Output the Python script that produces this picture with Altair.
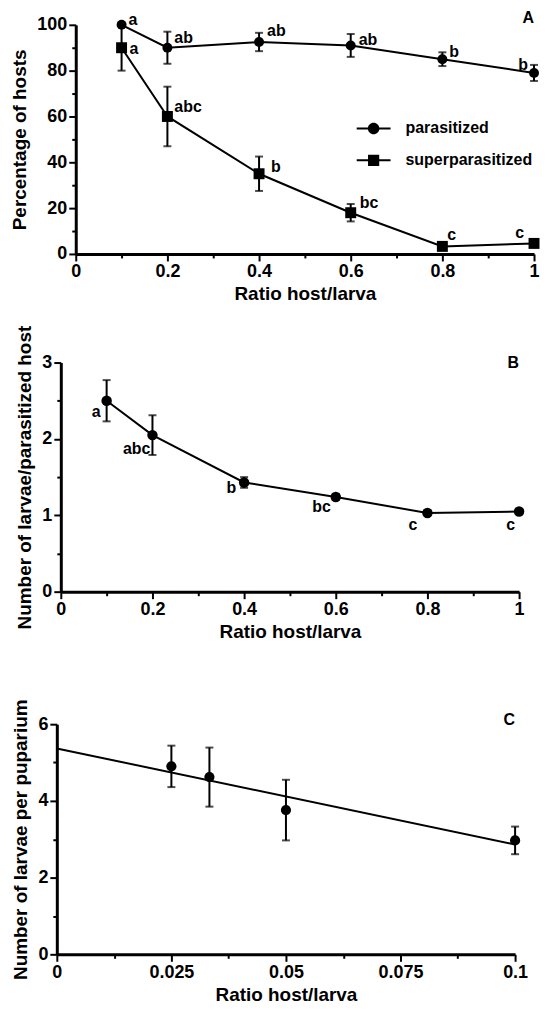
import altair as alt
import pandas as pd

FONT = "Liberation Sans"

# ---------------- data ----------------
# Panel A
ratio = [0.1, 0.2, 0.4, 0.6, 0.8, 1.0]
series_names = ["parasitized", "superparasitized"]
parasitized = [100, 90, 92.5, 91, 85, 79]
parasitized_sem = [0, 7, 4, 5, 3, 3.5]
parasitized_letters = ["a", "ab", "ab", "ab", "b", "b"]
superparasitized = [90, 60, 35, 18, 3.3, 4.6]
superparasitized_sem = [10, 13, 7.5, 3.8, 0, 0]
superparasitized_letters = ["a", "abc", "b", "bc", "c", "c"]

# Panel B
larvae_per_host = [2.5, 2.05, 1.43, 1.24, 1.03, 1.05]
larvae_per_host_sem = [0.27, 0.26, 0.07, 0.04, 0.02, 0.02]
larvae_per_host_letters = ["a", "abc", "b", "bc", "c", "c"]

# Panel C
ratio_c = [0.025, 0.0333, 0.05, 0.1]
larvae_per_puparium = [4.9, 4.62, 3.76, 2.97]
larvae_per_puparium_sem = [0.54, 0.77, 0.79, 0.36]

# Tick values
x_ticks_ab = [0, 0.1, 0.2, 0.3, 0.4, 0.5, 0.6, 0.7, 0.8, 0.9, 1.0]
y_ticks_a = [0, 10, 20, 30, 40, 50, 60, 70, 80, 90, 100]
y_ticks_b = [0, 0.5, 1, 1.5, 2, 2.5, 3]
x_ticks_c = [0, 0.0125, 0.025, 0.0375, 0.05, 0.0625, 0.075, 0.0875, 0.1]
y_ticks_c = [0, 1, 2, 3, 4, 5, 6]

# ---------------- styles ----------------
# letter placement: (align, dx, dy)
A_PAR_LABEL_STYLE = [("left", 7, -5), ("left", 7, -10), ("left", 8, -11),
                     ("left", 8, -5), ("left", 7, -7), ("right", -6, -8)]
A_SUP_LABEL_STYLE = [("left", 8, 1), ("left", 7, -9), ("left", 12, -7),
                     ("left", 9, -10), ("left", 5, -11), ("right", -10, -10)]
B_LABEL_STYLE = [("right", -6, 11), ("right", -2, 14), ("right", -8, 6),
                 ("right", -5, 10), ("right", -10, 12), ("right", -4, 14)]

PLOT_W = 460
A_SHIFT, B_SHIFT = 19, 4      # left inset of panel A / B plot relative to panel C
A_H, B_H, C_H = 230, 230, 231
C_TOP_GAP = 24
SPACING = 109

MAJ_X_AB = "round(datum.value * 10) % 2 == 0"
MAJ_Y_A = "round(datum.value) % 20 == 0"
MAJ_Y_B = "round(datum.value * 2) % 2 == 0"
MAJ_X_C = "round(datum.value * 80) % 2 == 0"
MAJ_Y_C = "round(datum.value) % 2 == 0"


def make_axis(values, major, title, title_pad, label_pad=2, offset=0):
    return alt.Axis(
        values=values,
        title=title,
        labelExpr=f"({major}) ? format(datum.value, '~g') : ''",
        tickSize={"condition": {"test": major, "value": 7}, "value": 4},
        titlePadding=title_pad,
        labelPadding=label_pad,
        labelFlush=False,
        labelOverlap=False,
        grid=False,
        offset=offset,
    )


def panel_title(letter, offset):
    return alt.TitleParams(text=letter, anchor="end", frame="group", fontSize=16,
                           font=FONT, fontWeight="bold", color="black", offset=offset)


def letter_layers(base, x_enc, y_enc, key_prefix, styles):
    layers = []
    for i, (align, dx, dy) in enumerate(styles):
        layers.append(
            base.transform_filter(f"datum.key == '{key_prefix}{i}'")
            .mark_text(align=align, baseline="middle", dx=dx, dy=dy, font=FONT,
                       fontSize=16, fontWeight="bold", color="black")
            .encode(x=x_enc, y=y_enc, text="letter:N")
        )
    return layers


# ---------------- Panel A ----------------
n = len(ratio)
df_a = pd.DataFrame({
    "ratio": ratio + ratio,
    "value": parasitized + superparasitized,
    "sem": parasitized_sem + superparasitized_sem,
    "series": [series_names[0]] * n + [series_names[1]] * n,
    "letter": parasitized_letters + superparasitized_letters,
    "key": [f"p{i}" for i in range(n)] + [f"s{i}" for i in range(n)],
})
df_a["lo"] = df_a["value"] - df_a["sem"]
df_a["hi"] = df_a["value"] + df_a["sem"]

xa_axis = make_axis(x_ticks_ab, MAJ_X_AB, "Ratio host/larva", 4)
ya_axis = make_axis(y_ticks_a, MAJ_Y_A, "Percentage of hosts", 7, offset=-A_SHIFT)
xa_scale = alt.Scale(domain=[0, 1], nice=False, range=[A_SHIFT, A_SHIFT + PLOT_W])
ya_scale = alt.Scale(domain=[0, 100], nice=False)
XA = alt.X("ratio:Q", axis=xa_axis, scale=xa_scale)
YA = alt.Y("value:Q", axis=ya_axis, scale=ya_scale)

base_a = alt.Chart(df_a)
lines_a = base_a.mark_line(color="black", strokeWidth=2).encode(x=XA, y=YA, detail="series:N")
err_a = base_a.transform_filter("datum.sem > 0").mark_errorbar(
    color="black", thickness=2, size=8, ticks=True
).encode(x=XA, y=alt.Y("lo:Q", axis=ya_axis, scale=ya_scale), y2="hi:Q")
circ_a = base_a.transform_filter(f"datum.series == '{series_names[0]}'").mark_point(
    filled=True, shape="circle", size=100, color="black", opacity=1
).encode(x=XA, y=YA)
sq_a = base_a.transform_filter(f"datum.series == '{series_names[1]}'").mark_point(
    filled=True, shape="square", size=121, color="black", opacity=1
).encode(x=XA, y=YA)

# legend symbols: line with marker
PATH_CIRCLE = ("M-1,-0.06H1V0.06H-1Z "
               "M0.34,0A0.34,0.34 0 1,1 -0.34,0A0.34,0.34 0 1,1 0.34,0Z")
PATH_SQUARE = "M-1,-0.06H1V0.06H-1Z M-0.33,-0.33H0.33V0.33H-0.33Z"
legend_a = base_a.transform_filter("false").mark_point(
    filled=True, color="black", opacity=1
).encode(
    x=XA, y=YA,
    shape=alt.Shape(
        "series:N",
        scale=alt.Scale(domain=series_names, range=[PATH_CIRCLE, PATH_SQUARE]),
        legend=alt.Legend(
            orient="none", legendX=301, legendY=87, title=None,
            symbolSize=1156, symbolStrokeWidth=0, symbolFillColor="black",
            labelFont=FONT, labelFontSize=16, labelFontWeight="bold",
            labelColor="black", labelOffset=15, rowPadding=7, padding=0,
        ),
    ),
)

letters_a = letter_layers(base_a, XA, YA, "p", A_PAR_LABEL_STYLE) + \
    letter_layers(base_a, XA, YA, "s", A_SUP_LABEL_STYLE)

panel_a = alt.layer(lines_a, err_a, circ_a, sq_a, legend_a, *letters_a).properties(
    width=A_SHIFT + PLOT_W, height=A_H, title=panel_title("A", -14)
)

# ---------------- Panel B ----------------
df_b = pd.DataFrame({
    "ratio": ratio,
    "value": larvae_per_host,
    "sem": larvae_per_host_sem,
    "letter": larvae_per_host_letters,
    "key": [f"b{i}" for i in range(n)],
})
df_b["lo"] = df_b["value"] - df_b["sem"]
df_b["hi"] = df_b["value"] + df_b["sem"]

xb_axis = make_axis(x_ticks_ab, MAJ_X_AB, "Ratio host/larva", 4)
yb_axis = make_axis(y_ticks_b, MAJ_Y_B, "Number of larvae/parasitized host", 7, offset=-B_SHIFT)
xb_scale = alt.Scale(domain=[0, 1], nice=False, range=[B_SHIFT, B_SHIFT + PLOT_W])
yb_scale = alt.Scale(domain=[0, 3], nice=False)
XB = alt.X("ratio:Q", axis=xb_axis, scale=xb_scale)
YB = alt.Y("value:Q", axis=yb_axis, scale=yb_scale)

base_b = alt.Chart(df_b)
lines_b = base_b.mark_line(color="black", strokeWidth=2).encode(x=XB, y=YB)
err_b = base_b.mark_errorbar(color="black", thickness=2, size=8, ticks=True).encode(
    x=XB, y=alt.Y("lo:Q", axis=yb_axis, scale=yb_scale), y2="hi:Q"
)
pts_b = base_b.mark_point(filled=True, shape="circle", size=110, color="black", opacity=1).encode(
    x=XB, y=YB
)
letters_b = letter_layers(base_b, XB, YB, "b", B_LABEL_STYLE)

panel_b = alt.layer(lines_b, err_b, pts_b, *letters_b).properties(
    width=B_SHIFT + PLOT_W, height=B_H, title=panel_title("B", -46)
)

# ---------------- Panel C ----------------
df_c = pd.DataFrame({
    "ratio": ratio_c,
    "value": larvae_per_puparium,
    "sem": larvae_per_puparium_sem,
})
df_c["lo"] = df_c["value"] - df_c["sem"]
df_c["hi"] = df_c["value"] + df_c["sem"]

xc_axis = make_axis(x_ticks_c, MAJ_X_C, "Ratio host/larva", 4)
yc_axis = make_axis(y_ticks_c, MAJ_Y_C, "Number of larvae per puparium", 7)
xc_scale = alt.Scale(domain=[0, 0.1], nice=False, range=[0, PLOT_W])
yc_scale = alt.Scale(domain=[0, 6], nice=False, range=[C_TOP_GAP + C_H, C_TOP_GAP])
XC = alt.X("ratio:Q", axis=xc_axis, scale=xc_scale)
YC = alt.Y("value:Q", axis=yc_axis, scale=yc_scale)

base_c = alt.Chart(df_c)
reg_c = base_c.transform_regression("ratio", "value", extent=[0, 0.1]).mark_line(
    color="black", strokeWidth=2
).encode(x=XC, y=YC)
err_c = base_c.mark_errorbar(color="black", thickness=2, size=8, ticks=True).encode(
    x=XC, y=alt.Y("lo:Q", axis=yc_axis, scale=yc_scale), y2="hi:Q"
)
pts_c = base_c.mark_point(filled=True, shape="circle", size=105, color="black", opacity=1).encode(
    x=XC, y=YC
)
panel_c = alt.layer(reg_c, err_c, pts_c).properties(
    width=PLOT_W, height=C_TOP_GAP + C_H, title=panel_title("C", -29)
)

# ---------------- layout ----------------
chart = alt.vconcat(panel_a, panel_b, panel_c, spacing=SPACING, bounds="flush").properties(
    padding={"left": 2, "top": 0, "right": 0, "bottom": 0}
).configure_view(stroke=None).configure_axis(
    domainColor="black", domainWidth=3, tickColor="black", tickWidth=2,
    labelFont=FONT, labelFontSize=18, labelFontWeight="bold", labelColor="black",
    titleFont=FONT, titleFontSize=19, titleFontWeight="bold", titleColor="black",
)

chart.save("out.html", embed_options={"renderer": "svg", "actions": False})
